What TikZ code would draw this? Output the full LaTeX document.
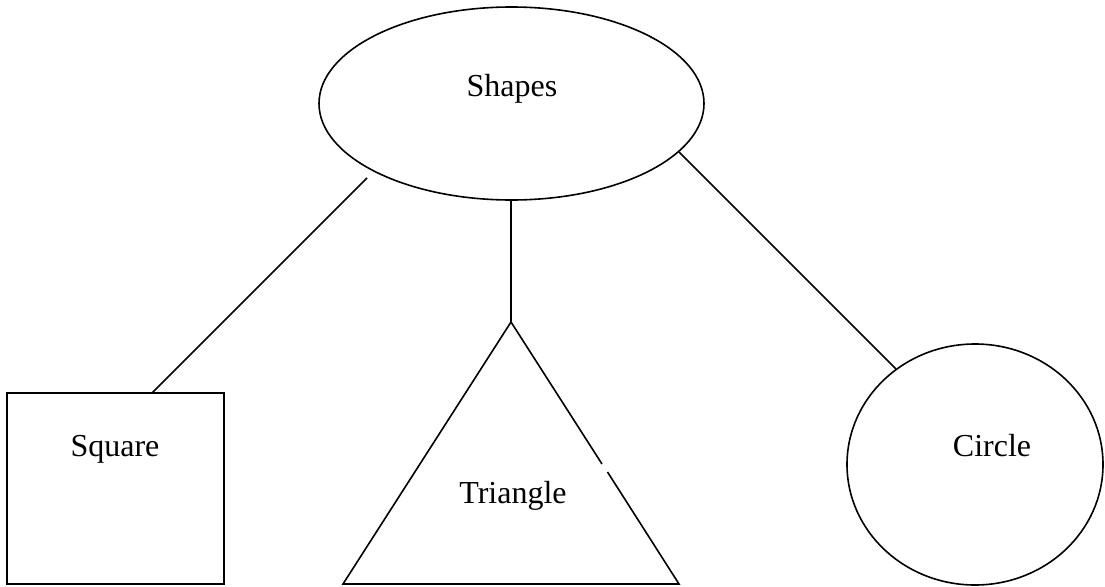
\documentclass[tikz,border=0pt]{standalone}
\usepackage{fontspec}
\setmainfont{Liberation Serif}
\usetikzlibrary{shapes.geometric}
\begin{document}
\begin{tikzpicture}[x=1pt,y=-1pt,
  outline/.style={draw=black,line width=1.6pt},
  oval/.style={outline,ellipse,inner sep=0pt},
  lbl/.style={anchor=base,font=\fontsize{32}{38}\selectfont,inner sep=0pt},
  link/.style={draw=black,line width=1.6pt}]
\useasboundingbox (0,0) rectangle (1105,586);
% shapes
\node[oval,minimum width=385pt,minimum height=193pt] (shapes) at (511.5,103.5) {};
\node[lbl] (shapesL) at (512,96) {Shapes};
% square
\node[outline,rectangle,inner sep=0pt,minimum width=217pt,minimum height=191pt] (square) at (115.5,488.5) {};
\node[lbl] (squareL) at (115,456) {Square};
% triangle
\coordinate (triTop) at (511,322);
\coordinate (triL) at (343,584);
\coordinate (triR) at (679,584);
\coordinate (gapA) at (602,464);
\coordinate (gapB) at (607.5,472);
\draw[outline,line join=miter] (gapA) -- (triTop) -- (triL) -- (triR) -- (gapB);
\node[lbl] (triangleL) at (513,503) {Triangle};
% circle
\node[oval,minimum width=256pt,minimum height=241pt] (circle) at (975,464.5) {};
\node[lbl] (circleL) at (992,456) {Circle};
% connectors
\coordinate (lA) at (367,178);
\coordinate (lB) at (152,393);
\coordinate (mA) at (511,200);
\coordinate (rA) at (679,152);
\coordinate (rB) at (896,369);
\draw[link] (lA) -- (lB);
\draw[link] (mA) -- (triTop);
\draw[link] (rA) -- (rB);
\end{tikzpicture}
\end{document}
